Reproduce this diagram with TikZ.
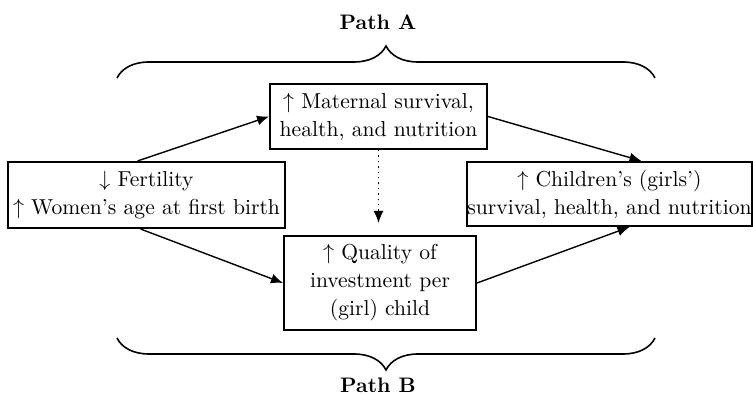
\documentclass[tikz,border=0pt]{standalone}
\usetikzlibrary{arrows.meta,decorations.pathreplacing}
\tikzset{
  box/.style={draw,line width=1pt,align=center,inner sep=0pt,font=\fontsize{10.8}{14}\selectfont},
  arr/.style={-{Latex[length=6pt,width=5pt]},line width=0.7pt},
  brc/.style={decorate,decoration={brace,amplitude=16pt},line width=0.8pt}
}
\begin{document}
\begin{tikzpicture}[x=0.5pt,y=-0.5pt]
\useasboundingbox (0,0) rectangle (753,399);
\node[box,minimum width=138.5pt,minimum height=33pt] (fert) at (146.5,195) {$\downarrow$ Fertility\\$\uparrow$ Women's age at first birth};
\node[box,minimum width=108.5pt,minimum height=32.5pt] (mat) at (378.5,116.5) {$\uparrow$ Maternal survival,\\health, and nutrition};
\node[box,minimum width=96pt,minimum height=47pt] (qual) at (380,283) {$\uparrow$ Quality of\\investment per\\(girl) child};
\node[box,minimum width=142pt,minimum height=32pt] (child) at (609.5,194) {$\uparrow$ Children's (girls')\\survival, health, and nutrition};
\coordinate (dotend) at (378.5,223);
\draw[arr] ([xshift=-4.5pt]fert.north) -- (mat.west);
\draw[arr] ([xshift=-3pt]fert.south) -- (qual.west);
\draw[arr] (mat.east) -- ([xshift=16pt]child.north);
\draw[arr] (qual.east) -- ([xshift=10pt]child.south);
\draw[arr,dotted] (mat.south) -- (dotend);
\coordinate (a1) at (117,78);\coordinate (a2) at (655,78);
\coordinate (b1) at (117,338);\coordinate (b2) at (655,338);
\draw[brc] (a1) -- (a2);
\draw[brc] (b2) -- (b1);
\node[font=\fontsize{10.5}{14}\selectfont\bfseries] (pathA) at (378,22) {Path A};
\node[font=\fontsize{10.5}{14}\selectfont\bfseries] (pathB) at (378,385) {Path B};
\end{tikzpicture}
\end{document}
